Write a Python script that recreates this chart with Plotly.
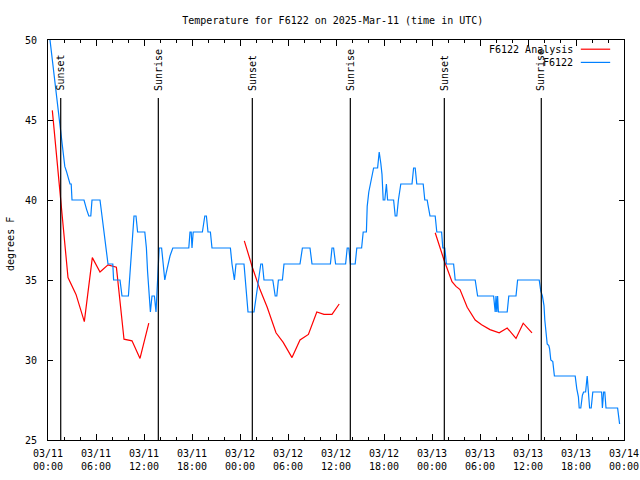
import plotly.graph_objects as go
import pandas as pd

BASE = pd.Timestamp("2025-03-11 00:00")

# Station observations (hours after 03/11 00:00 UTC, degrees F)
obs_hours = [0.25, 0.6, 1.0, 1.4, 1.65, 1.8, 2.1, 2.3, 2.55, 2.75, 2.9, 2.95, 3.0,
             4.5, 4.7, 4.83, 5.1, 5.35, 5.5,
             6.5, 6.75, 7.0, 7.25, 7.5,
             8.1, 8.2, 9.0, 9.25, 10.05, 10.25, 10.5, 10.75, 11.0, 11.2, 12.1, 12.3, 12.45, 12.6, 12.8,
             13.0, 13.3, 13.5, 13.65, 13.8, 13.9, 14.2, 14.4, 14.6, 14.8, 15.0, 15.25, 15.6,
             17.6, 17.75, 17.9, 18.0, 18.15, 19.3, 19.6, 19.8, 20.0, 20.3, 20.5, 22.8, 23.0, 23.3, 23.5, 24.5,
             24.75, 25.0, 25.75, 26.05, 26.4, 26.6, 26.8, 27.0, 28.1, 28.4, 28.6, 28.8, 29.3, 29.5,
             31.5, 31.8, 32.75, 33.0, 35.3, 35.5, 35.7, 35.95, 37.2, 37.4, 37.6, 37.8, 38.4, 38.6,
             39.2, 39.4, 39.8, 39.9, 40.1, 40.3, 40.5, 40.7, 41.2, 41.4, 41.6, 41.75, 41.9, 42.1,
             42.3, 42.45, 43.2, 43.4, 43.6, 43.8, 44.1, 45.5, 45.7, 45.9, 46.1, 46.9, 47.1, 47.4,
             47.5, 47.75, 48.4, 48.6, 49.2, 49.35, 49.6, 49.8, 50.7, 50.9, 53.4, 53.7, 55.7, 55.9,
             56.0, 56.1, 56.2, 56.3, 57.4, 57.6, 58.5, 58.7, 61.4, 61.6, 61.8, 62.0, 62.1, 62.25,
             62.4, 62.6, 62.7, 62.85, 63.1, 63.3, 65.9, 66.1, 66.3, 66.4, 66.6, 66.8, 66.95, 67.2,
             67.3, 67.4, 67.55, 67.7, 67.9, 68.1, 69.2, 69.3, 69.45, 69.6, 69.75, 71.2, 71.3, 71.45]
obs_temps = [50, 48.5, 46.8, 45.0, 43.7, 43.0, 42.1, 41.8, 41.25, 41, 41, 40.4, 40,
             40, 39.5, 39.4, 39, 39, 40,
             40, 39, 38, 37, 36,
             36, 35, 35, 34, 34, 35.5, 37.5, 39, 39, 38, 38, 37, 35.5, 34.5, 33,
             34, 34, 33, 34.5, 35.5, 37, 37, 36, 35, 35.5, 36, 36.5, 37,
             37, 38, 38, 37, 38, 38, 39, 39, 38, 38, 37, 37, 36, 35, 36, 36,
             34.6, 33, 33, 34, 35.2, 36, 36, 35, 35, 34, 34, 35, 35, 36,
             36, 37, 37, 36, 36, 37, 37, 36, 36, 37, 37, 36, 36, 37,
             37, 38, 38, 39.6, 40.5, 41, 41.3, 42, 42, 43, 42.3, 41.6, 40, 40,
             41, 40, 40, 39, 39, 40, 41, 41, 42, 42, 41, 41, 40, 40,
             39.7, 39, 39, 38, 38, 37, 37, 36, 36, 35, 35, 34, 34, 33,
             34, 33, 34, 33, 33, 34, 34, 35, 35, 34.3, 34, 33.4, 32.5, 31.8,
             31, 30.9, 30.7, 30, 29.9, 29, 29, 28.2, 27.7, 27, 27, 27.8, 28, 28,
             28.75, 29, 28, 27, 27, 28, 28, 27, 28, 28, 27, 27, 26.6, 26]

# Analysis series, three separate segments
ana1_hours = [0.54, 2.5, 3.5, 4.54, 5.54, 6.5, 7.5, 8.55, 9.5, 10.5, 11.5, 12.6]
ana1_temps = [45.6, 35.15, 34.1, 32.4, 36.4, 35.5, 35.95, 35.8, 31.3, 31.2, 30.1, 32.3]
ana2_hours = [24.54, 25.54, 26.5, 27.4, 28.5, 29.4, 30.5, 31.5, 32.55, 33.6, 34.5, 35.5, 36.4]
ana2_temps = [37.45, 35.8, 34.4, 33.3, 31.7, 31.1, 30.15, 31.25, 31.6, 33.0, 32.85, 32.85, 33.5]
ana3_hours = [48.4, 49.0, 49.5, 50.5, 51.0, 51.5, 52.4, 53.4, 54.2, 55.25, 56.4, 57.4, 58.5, 59.4, 60.5]
ana3_temps = [37.95, 37.0, 36.25, 34.9, 34.6, 34.4, 33.3, 32.5, 32.2, 31.9, 31.7, 32.0, 31.35, 32.3, 31.7]

sun_hours = [1.59, 13.79, 25.54, 37.79, 49.54, 61.66]
sun_labels = ["Sunset", "Sunrise", "Sunset", "Sunrise", "Sunset", "Sunrise"]

tick_hours = list(range(0, 73, 6))
tick_text = ["03/11<br>00:00", "03/11<br>06:00", "03/11<br>12:00", "03/11<br>18:00",
             "03/12<br>00:00", "03/12<br>06:00", "03/12<br>12:00", "03/12<br>18:00",
             "03/13<br>00:00", "03/13<br>06:00", "03/13<br>12:00", "03/13<br>18:00",
             "03/14<br>00:00"]
minor_hours = list(range(0, 73, 2))

y_ticks = [25, 30, 35, 40, 45, 50]


def t(hours):
    return [BASE + pd.Timedelta(hours=h) for h in hours]


FONT = "DejaVu Sans Mono"
RED = "#ff0000"
BLUE = "#0080ff"

ana_x = t(ana1_hours) + [None] + t(ana2_hours) + [None] + t(ana3_hours)
ana_y = ana1_temps + [None] + ana2_temps + [None] + ana3_temps

fig = go.Figure()
fig.add_trace(go.Scatter(x=ana_x, y=ana_y, mode="lines", name="F6122 Analysis",
                         line=dict(color=RED, width=1.2), connectgaps=False))
fig.add_trace(go.Scatter(x=t(obs_hours), y=obs_temps, mode="lines", name="F6122",
                         line=dict(color=BLUE, width=1.2)))

shapes = []
annotations = []
for h, lab in zip(sun_hours, sun_labels):
    x = BASE + pd.Timedelta(hours=h)
    shapes.append(dict(type="line", xref="x", yref="paper", x0=x, x1=x, y0=0, y1=0.855,
                       line=dict(color="black", width=1.2)))
    annotations.append(dict(text=lab, xref="x", yref="paper", x=x, y=0.868,
                            xanchor="center", yanchor="bottom", textangle=-90,
                            showarrow=False, font=dict(family=FONT, size=10, color="black")))

# gnuplot-style legend (text then sample line)
leg = [("F6122 Analysis", RED, 0.977), ("F6122", BLUE, 0.944)]
for name, col, yy in leg:
    annotations.append(dict(text=name, xref="paper", yref="paper", x=0.915, y=yy,
                            xanchor="right", yanchor="middle", showarrow=False,
                            font=dict(family=FONT, size=10, color="black")))
    shapes.append(dict(type="line", xref="paper", yref="paper", x0=0.925, x1=0.976,
                       y0=yy, y1=yy, line=dict(color=col, width=1.2)))

annotations.append(dict(text="degrees F", xref="paper", yref="paper", x=-0.066, y=0.49,
                        xanchor="center", yanchor="middle", textangle=-90, showarrow=False,
                        font=dict(family=FONT, size=10, color="black")))

fig.update_layout(
    width=640, height=480, autosize=False,
    margin=dict(l=48, r=16, t=40, b=40, autoexpand=False),
    paper_bgcolor="white", plot_bgcolor="white",
    showlegend=False,
    font=dict(family=FONT, size=10, color="black"),
    title=dict(text="Temperature for F6122 on 2025-Mar-11 (time in UTC)",
               x=0.52, xanchor="center", y=0.958, yanchor="middle", yref="container",
               font=dict(family=FONT, size=10, color="black")),
    shapes=shapes, annotations=annotations,
)
fig.update_xaxes(
    range=[BASE, BASE + pd.Timedelta(hours=72)],
    tickmode="array", tickvals=t(tick_hours), ticktext=tick_text,
    ticks="inside", ticklen=6, tickcolor="black", tickwidth=1,
    minor=dict(tickmode="array", tickvals=t(minor_hours), ticks="inside", ticklen=3,
               tickcolor="black", showgrid=False),
    showline=True, linecolor="black", linewidth=1, mirror="ticks",
    showgrid=False, zeroline=False, ticklabelstandoff=4, automargin=False,
    tickfont=dict(family=FONT, size=10, color="black"),
)
fig.update_yaxes(
    range=[25, 50], tickmode="array", tickvals=y_ticks,
    ticks="inside", ticklen=5, tickcolor="black", tickwidth=1,
    showline=True, linecolor="black", linewidth=1, mirror="ticks",
    showgrid=False, zeroline=False, ticklabelstandoff=8, automargin=False,
    tickfont=dict(family=FONT, size=10, color="black"),
)

fig.write_html("out.html", config={"displayModeBar": False},
               post_script="document.body.style.margin='0';document.body.style.overflow='hidden';")
